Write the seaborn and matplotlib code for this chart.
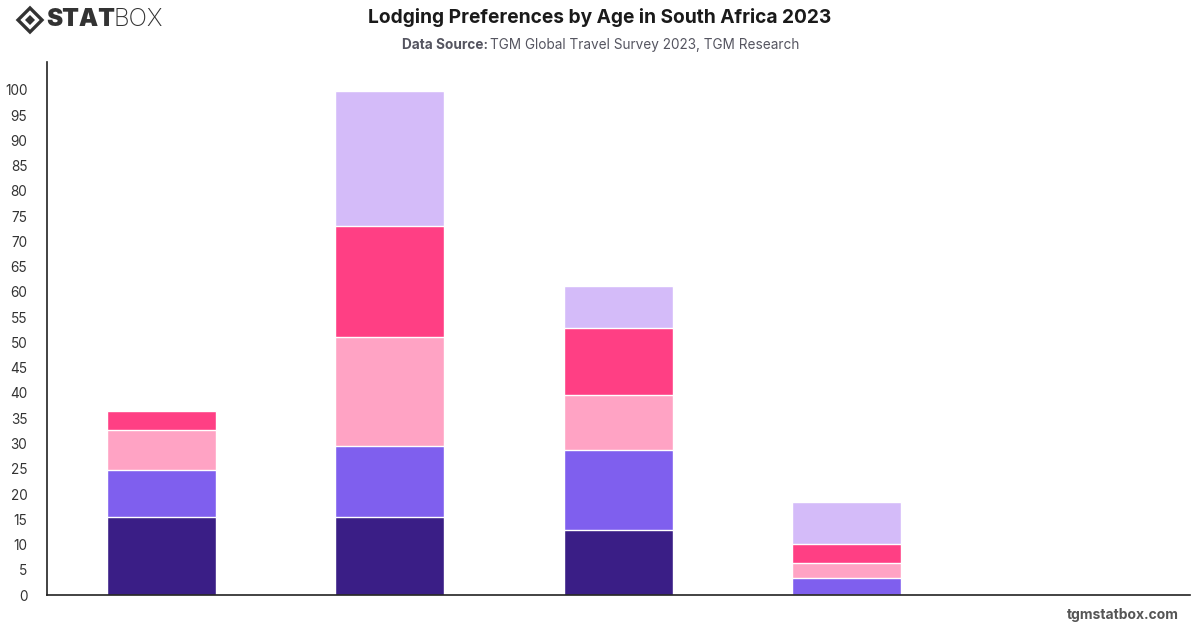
import numpy as np
import pandas as pd
import matplotlib
matplotlib.use("Agg")
import matplotlib.pyplot as plt
import seaborn as sns
from matplotlib.patches import Polygon

# data (stack order bottom -> top)
age_groups = ["18-24", "25-34", "35-44", "45-54", "55+"]
series_names = ["Hotel", "Vacation Rental", "Hostel", "Resort", "Other"]
hotel = [15.4, 15.4, 12.8, 0.0, 0.0]
rental = [9.3, 14.1, 15.9, 3.4, 0.0]
hostel = [7.9, 21.6, 11.0, 2.9, 0.0]
resort = [3.8, 22.0, 13.1, 3.9, 0.0]
other = [0.0, 26.7, 8.4, 8.2, 0.0]
colors = ["#3a1e86", "#7f5fee", "#ffa3c4", "#ff3f84", "#d4bbf9"]

sns.set_theme(style="white")
plt.rcParams["font.family"] = ["Inter", "DejaVu Sans"]

df = pd.DataFrame({"age": age_groups, "Hotel": hotel, "Vacation Rental": rental,
                   "Hostel": hostel, "Resort": resort, "Other": other})
cum = df[series_names].cumsum(axis=1)

fig = plt.figure(figsize=(12, 6.28), dpi=100)
ax = fig.add_axes([0.039, 0.0525, 0.9525, 0.8485])

# draw cumulative totals from top layer down so each segment sits on the one below
for name, col in reversed(list(zip(series_names, colors))):
    sns.barplot(x=df["age"], y=cum[name], color=col, width=0.477,
                edgecolor="white", linewidth=1.0, saturation=1, ax=ax)

ax.set_ylim(0, 105.5)
ax.set_xlim(-0.5, 4.5)
ax.set_yticks(np.arange(0, 101, 5))
ax.tick_params(axis="y", labelsize=9.8, colors="#333333", length=0, pad=14)
ax.set_xticks([])
ax.set_xlabel("")
ax.set_ylabel("")
for s in ["top", "right"]:
    ax.spines[s].set_visible(False)
for s in ["left", "bottom"]:
    ax.spines[s].set_color("#222222")
    ax.spines[s].set_linewidth(1.2)

# titles
fig.text(0.5, 0.972, "Lodging Preferences by Age in South Africa 2023",
         ha="center", va="center", fontsize=13.8, fontweight="bold", color="#1a1a1a")
fig.text(0.4065, 0.929, "Data Source:", ha="right", va="center", fontsize=9.8,
         fontweight="bold", color="#555560")
fig.text(0.4085, 0.929, "TGM Global Travel Survey 2023, TGM Research", ha="left",
         va="center", fontsize=9.8, color="#555560")

# logo
W, H = 1200, 628
cx, cy, r = 30, H - 20, 12
outer = Polygon([(cx / W, (cy + r) / H), ((cx + r) / W, cy / H),
                 (cx / W, (cy - r) / H), ((cx - r) / W, cy / H)],
                closed=True, fill=False, edgecolor="#333333", linewidth=2.4,
                transform=fig.transFigure)
ri = 6
inner = Polygon([(cx / W, (cy + ri) / H), ((cx + ri) / W, cy / H),
                 (cx / W, (cy - ri) / H), ((cx - ri) / W, cy / H)],
                closed=True, facecolor="#333333", transform=fig.transFigure)
fig.patches.extend([outer, inner])
fig.text(46 / W, 1 - 20 / H, "STAT", ha="left", va="center", fontsize=17.5,
         fontweight="black", color="#333333")
fig.text(113 / W, 1 - 20 / H, "BOX", ha="left", va="center", fontsize=17.5,
         fontweight="light", color="#333333")

# footer
fig.text(0.982, 0.02, "tgmstatbox.com", ha="right", va="center", fontsize=10,
         fontweight="bold", color="#555555")

fig.savefig("out.png", dpi=100)
